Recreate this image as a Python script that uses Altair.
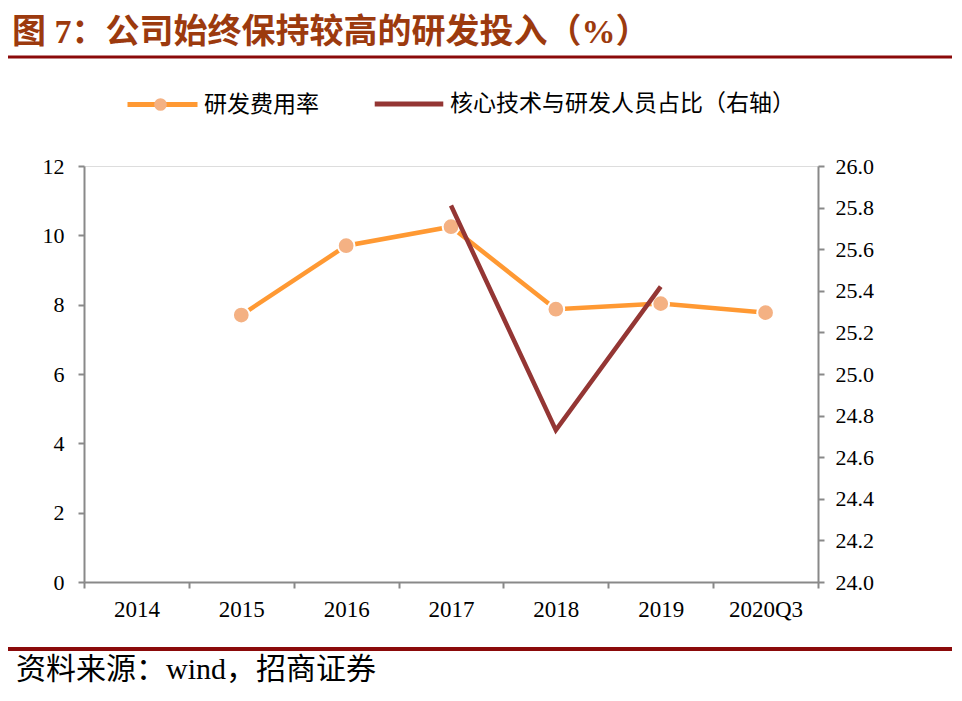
import altair as alt
import pandas as pd

categories = ["2014", "2015", "2016", "2017", "2018", "2019", "2020Q3"]
rate_years = ["2015", "2016", "2017", "2018", "2019", "2020Q3"]
rate_values = [7.70, 9.70, 10.25, 7.87, 8.03, 7.77]
staff_years = ["2017", "2018", "2019"]
staff_values = [25.81, 24.73, 25.42]
series_rate = "研发费用率"
series_staff = "核心技术与研发人员占比（右轴）"
marker_name = "点"
title_text = "图 7：公司始终保持较高的研发投入（%）"
source_text = "资料来源：wind，招商证券"
left_ticks = [0, 2, 4, 6, 8, 10, 12]
right_ticks = [24.0, 24.2, 24.4, 24.6, 24.8, 25.0, 25.2, 25.4, 25.6, 25.8, 26.0]

ORANGE = "#FF9933"
POINT = "#F4B183"
RED = "#943634"
TITLE_RED = "#9C3A0E"
LINE_RED = "#8B0A0A"
AXIS_GREY = "#898989"
SERIF = "Liberation Serif, Noto Sans CJK SC"

df_rate = pd.DataFrame({"year": rate_years, "value": rate_values,
                        "series": series_rate, "marker": marker_name})
df_staff = pd.DataFrame({"year": staff_years, "value": staff_values,
                         "series": series_staff})
df_one = pd.DataFrame({"k": [0]})

x_enc = alt.X("year:N", sort=categories,
              scale=alt.Scale(type="band", domain=categories, paddingInner=0, paddingOuter=0),
              axis=alt.Axis(title=None, labelAngle=0, tickBand="extent", labelFont=SERIF,
                            labelFontSize=23, labelColor="black", labelPadding=10,
                            domainColor=AXIS_GREY, domainWidth=2, tickColor=AXIS_GREY,
                            tickWidth=2, tickSize=6, grid=False))

y_left = alt.Y("value:Q",
               scale=alt.Scale(domain=[0, 12], nice=False, zero=False),
               axis=alt.Axis(title=None, values=left_ticks, format="d", labelFont=SERIF,
                             labelFontSize=22, labelColor="black", labelPadding=14,
                             domainColor=AXIS_GREY, domainWidth=2, tickColor=AXIS_GREY,
                             tickWidth=2, tickSize=6, grid=False, orient="left"))

y_right = alt.Y("value:Q",
                scale=alt.Scale(domain=[24.0, 26.0], nice=False, zero=False),
                axis=alt.Axis(title=None, values=right_ticks, format=".1f", labelFont=SERIF,
                              labelFontSize=22, labelColor="black", labelPadding=11,
                              domainColor=AXIS_GREY, domainWidth=2, tickColor=AXIS_GREY,
                              tickWidth=2, tickSize=6, grid=False, orient="right"))

rate_line = alt.Chart(df_rate).mark_line(strokeWidth=4.5).encode(
    x=x_enc, y=y_left,
    color=alt.Color("series:N", scale=alt.Scale(domain=[series_rate], range=[ORANGE]),
                    legend=alt.Legend(title=None, orient="none", legendX=41, legendY=-99,
                                      symbolType="stroke", symbolSize=4900,
                                      symbolStrokeWidth=5, labelFont=SERIF,
                                      labelFontSize=23, labelColor="black",
                                      labelOffset=4, labelLimit=600, padding=0)))

rate_pts = alt.Chart(df_rate).mark_circle(size=280, opacity=1, stroke="white",
                                          strokeWidth=2).encode(
    x=x_enc, y=y_left,
    fill=alt.Fill("marker:N", scale=alt.Scale(domain=[marker_name], range=[POINT]),
                  legend=alt.Legend(title=None, orient="none", legendX=70, legendY=-68,
                                    symbolType="circle", symbolSize=160,
                                    symbolStrokeWidth=0, labelExpr="''", padding=0)))

left_layer = alt.layer(rate_line, rate_pts)

staff_line = alt.Chart(df_staff).mark_line(strokeWidth=4.5).encode(
    x=x_enc, y=y_right,
    stroke=alt.Stroke("series:N", scale=alt.Scale(domain=[series_staff], range=[RED]),
                      legend=alt.Legend(title=None, orient="none", legendX=288, legendY=-99,
                                        symbolType="stroke", symbolSize=4700,
                                        symbolStrokeWidth=5, labelFont=SERIF,
                                        labelFontSize=23, labelColor="black",
                                        labelOffset=4, labelLimit=600, padding=0)))

title_mark = alt.Chart(df_one).mark_text(align="left", baseline="middle", font=SERIF,
                                         fontSize=34, fontWeight="bold",
                                         color=TITLE_RED).encode(
    x=alt.value(-72), y=alt.value(-133), text=alt.value(title_text))

title_rule = alt.Chart(df_one).mark_rule(color=LINE_RED, strokeWidth=3).encode(
    x=alt.value(-76), x2=alt.value(868), y=alt.value(-109))

foot_rule = alt.Chart(df_one).mark_rule(color=LINE_RED, strokeWidth=4).encode(
    x=alt.value(-76), x2=alt.value(868), y=alt.value(483))

foot_text = alt.Chart(df_one).mark_text(align="left", baseline="middle", font=SERIF,
                                        fontSize=30, color="black").encode(
    x=alt.value(-68), y=alt.value(504), text=alt.value(source_text))

chart = alt.layer(left_layer, staff_line, title_mark, title_rule, foot_rule, foot_text
                  ).resolve_scale(y="independent", color="independent",
                                  stroke="independent", fill="independent"
                  ).properties(
    width=734, height=416,
    padding={"left": 76, "top": 158, "right": 136, "bottom": 111},
    autosize=alt.AutoSizeParams(type="none"),
).configure_view(stroke=None).configure(background="white")

chart.save("out.html", embed_options={"renderer": "svg", "actions": False})
